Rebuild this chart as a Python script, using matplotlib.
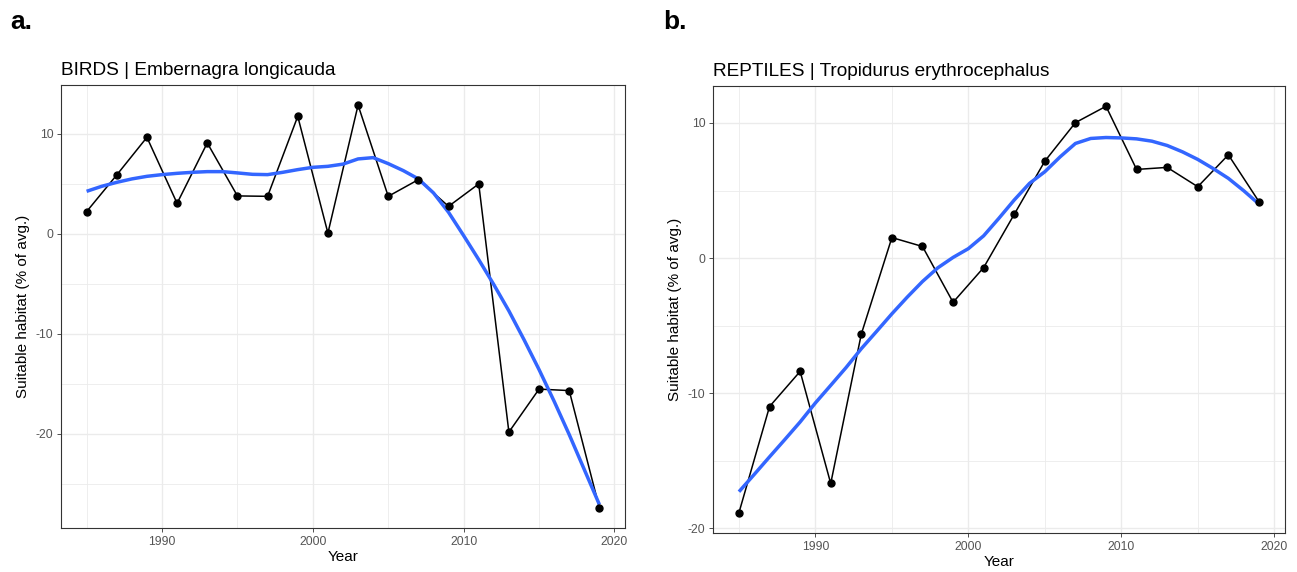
import matplotlib.pyplot as plt
from matplotlib.ticker import MultipleLocator

plt.rcParams['font.family'] = ['Liberation Sans', 'DejaVu Sans']
plt.rcParams['axes.unicode_minus'] = False

# survey years (one value every two years)
years = [1985, 1987, 1989, 1991, 1993, 1995, 1997, 1999, 2001,
         2003, 2005, 2007, 2009, 2011, 2013, 2015, 2017, 2019]

# suitable habitat, % of the average
birds_habitat = [2.2, 5.87, 9.63, 3.03, 9.07, 3.77, 3.73, 11.73, 0.05,
                 12.85, 3.73, 5.4, 2.73, 4.97, -19.85, -15.55, -15.7, -27.43]
reptiles_habitat = [-18.83, -10.98, -8.38, -16.67, -5.62, 1.52, 0.86, -3.27, -0.7,
                    3.24, 7.17, 10.02, 11.23, 6.56, 6.71, 5.28, 7.64, 4.18]

# smoothed trend, one value per year
trend_years = [1985, 1986, 1987, 1988, 1989, 1990, 1991, 1992, 1993, 1994,
               1995, 1996, 1997, 1998, 1999, 2000, 2001, 2002, 2003, 2004,
               2005, 2006, 2007, 2008, 2009, 2010, 2011, 2012, 2013, 2014,
               2015, 2016, 2017, 2018, 2019]
birds_trend = [4.23, 4.73, 5.13, 5.47, 5.73, 5.9, 6.03, 6.13, 6.2, 6.2,
               6.07, 5.93, 5.9, 6.13, 6.4, 6.63, 6.73, 6.95, 7.47, 7.6,
               7.0, 6.3, 5.47, 4.07, 2.13, -0.2, -2.6, -5.1, -7.73, -10.6,
               -13.6, -16.77, -20.1, -23.6, -27.1]
reptiles_trend = [-17.28, -16.0, -14.7, -13.42, -12.12, -10.71, -9.41, -8.1, -6.7, -5.42,
                  -4.12, -2.89, -1.73, -0.72, 0.05, 0.7, 1.65, 2.95, 4.3, 5.53,
                  6.39, 7.49, 8.48, 8.85, 8.92, 8.89, 8.82, 8.65, 8.33, 7.86,
                  7.3, 6.63, 5.9, 4.99, 4.0]

titles = ['BIRDS | Embernagra longicauda', 'REPTILES | Tropidurus erythrocephalus']
panel_tags = ['a.', 'b.']
xticks = [1990, 2000, 2010, 2020]
yticks = [-20, -10, 0, 10]

fig = plt.figure(figsize=(12.97, 5.72), dpi=100)
ax_a = fig.add_axes([0.0470, 0.0769, 0.4349, 0.7745])
ax_b = fig.add_axes([0.5497, 0.0682, 0.4410, 0.7815])

panels = [(ax_a, birds_habitat, birds_trend), (ax_b, reptiles_habitat, reptiles_trend)]

for i, (ax, values, trend) in enumerate(panels):
    ax.plot(years, values, color='black', lw=1.1, zorder=3)
    ax.plot(trend_years, trend, color='#3366FF', lw=2.5, zorder=4,
            solid_capstyle='butt')
    ax.plot(years, values, 'o', color='black', ms=5, zorder=5)

    ax.margins(x=0.05, y=0.05)
    ax.set_xticks(xticks)
    ax.set_yticks(yticks)
    ax.xaxis.set_minor_locator(MultipleLocator(5))
    ax.yaxis.set_minor_locator(MultipleLocator(5))
    ax.grid(which='major', color='#EBEBEB', lw=1.0, zorder=0)
    ax.grid(which='minor', color='#EBEBEB', lw=0.6, zorder=0)
    ax.set_axisbelow(True)
    ax.tick_params(which='major', length=3, width=0.6, color='#333333',
                   labelsize=8.8, labelcolor='#555555', pad=2.5)
    ax.tick_params(which='minor', length=0)
    for s in ax.spines.values():
        s.set_color('#333333')
        s.set_linewidth(0.8)

    ax.set_xlabel('Year', fontsize=11, labelpad=1.5)
    ax.set_ylabel('Suitable habitat (% of avg.)', fontsize=11, labelpad=4)
    ax.set_title(titles[i], loc='left', fontsize=13.7, pad=7)

fig.text(0.008, 0.962, panel_tags[0], fontsize=19, fontweight='bold', va='center')
fig.text(0.511, 0.962, panel_tags[1], fontsize=19, fontweight='bold', va='center')

plt.savefig('out.png', dpi=100)
